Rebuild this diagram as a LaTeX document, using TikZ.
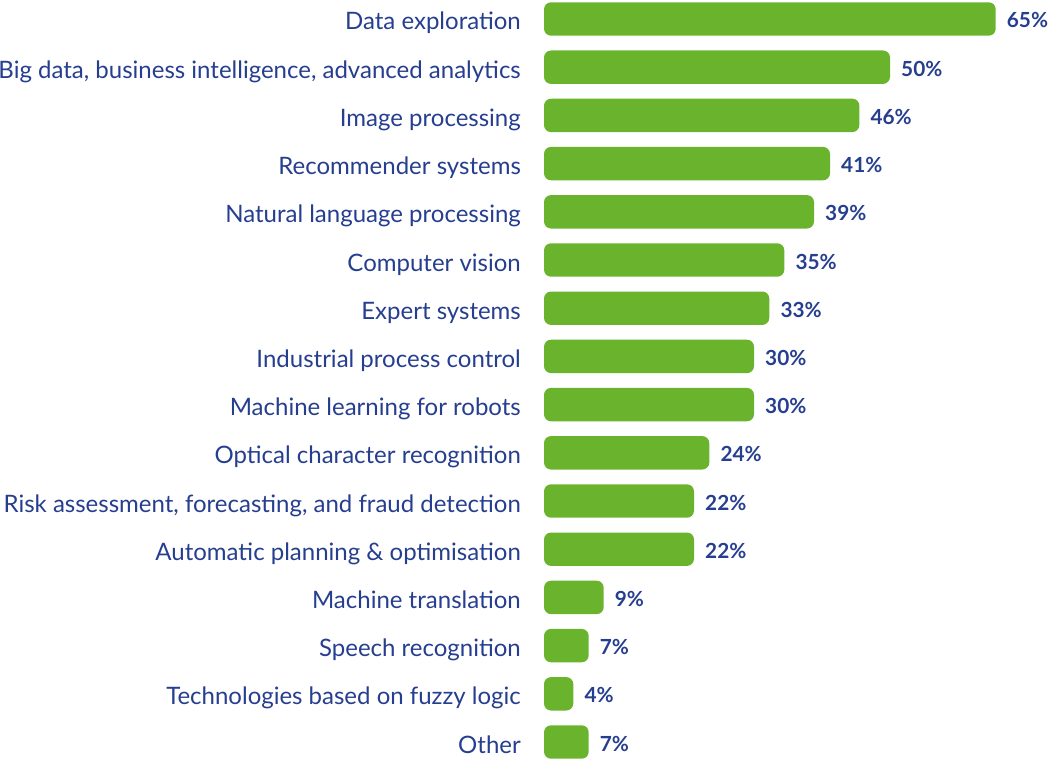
\documentclass[tikz,border=0pt]{standalone}
\usepackage{fontspec}
\setmainfont{Lato}
\definecolor{bargreen}{RGB}{106,180,45}
\definecolor{txtblue}{RGB}{38,62,143}
\begin{document}
\begin{tikzpicture}[x=1pt,y=-1pt,
  bar/.style={fill=bargreen,draw=none,rounded corners=7pt},
  cat/.style={anchor=base east,inner sep=0pt,text=txtblue,font=\fontsize{24}{28}\selectfont},
  pct/.style={anchor=base west,inner sep=0pt,text=txtblue,font=\fontsize{20.8}{24}\selectfont\bfseries}]
\useasboundingbox (0,0) rectangle (1049,760);
\foreach \i/\lab/\p/\e in {
  1/Data exploration/65/995.7,
  2/{Big data, business intelligence, advanced analytics}/50/890,
  3/Image processing/46/859.3,
  4/Recommender systems/41/830,
  5/Natural language processing/39/814,
  6/Computer vision/35/784.3,
  7/Expert systems/33/769.3,
  8/Industrial process control/30/754,
  9/Machine learning for robots/30/754,
  10/Optical character recognition/24/709.3,
  11/{Risk assessment, forecasting, and fraud detection}/22/694,
  12/Automatic planning \& optimisation/22/694,
  13/Machine translation/9/603.7,
  14/Speech recognition/7/588.7,
  15/Technologies based on fuzzy logic/4/573.3,
  16/Other/7/588.7}{
  \pgfmathsetmacro{\yc}{19+48.2*(\i-1)}
  \path[bar] (544,\yc-16.7) rectangle (\e,\yc+16.7);
  \node[cat] (c\i) at (521,\yc+11) {\lab};
  \node[pct] (p\i) at (\e+11,\yc+9) {\p\%};
}
\end{tikzpicture}
\end{document}
